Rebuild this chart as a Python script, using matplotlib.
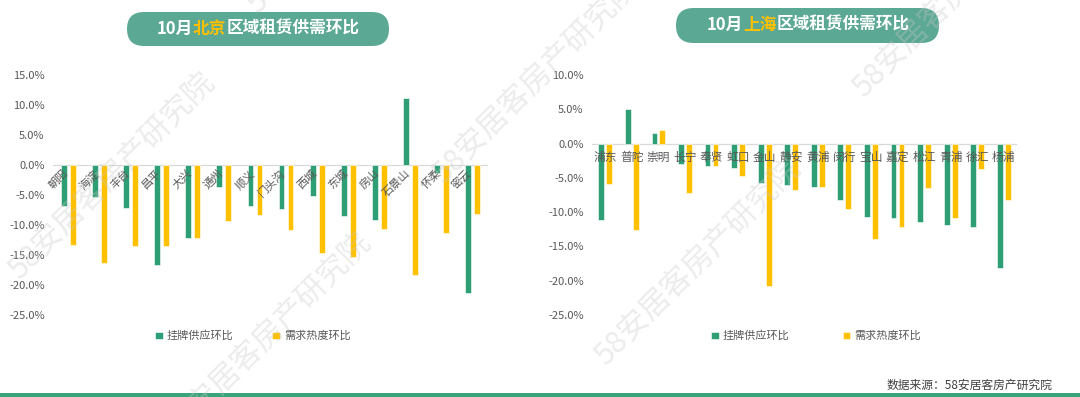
"""Recreates the October Beijing / Shanghai rental supply-demand chart."""

import matplotlib

matplotlib.use("Agg")

import matplotlib.pyplot as plt
import numpy as np
from matplotlib.patches import FancyBboxPatch, Rectangle

plt.rcParams["font.family"] = ["Noto Sans CJK SC", "DejaVu Sans"]

W, H = 1080, 397

GREEN = "#2e9e74"
YELLOW = "#ffc000"
TITLE_BG = "#5ba894"
TEXT = "#595959"

SERIES_NAMES = ["挂牌供应环比", "需求热度环比"]

# Beijing districts (percent month-on-month).
BJ_DISTRICTS = ["朝阳", "海淀", "丰台", "昌平", "大兴", "通州", "顺义",
                "门头沟", "西城", "东城", "房山", "石景山", "怀柔", "密云"]
BJ_SUPPLY = [-6.9, -5.4, -7.1, -16.6, -12.1, -3.7, -6.9,
             -7.3, -5.2, -8.5, -9.1, 11.2, -1.3, -21.4]
BJ_DEMAND = [-13.3, -16.4, -13.5, -13.5, -12.2, -9.4, -8.4,
             -10.9, -14.6, -15.4, -10.7, -18.4, -11.4, -8.2]
BJ_TICKS = [-25, -20, -15, -10, -5, 0, 5, 10, 15]

# Shanghai districts (percent month-on-month).
SH_DISTRICTS = ["浦东", "普陀", "崇明", "长宁", "奉贤", "虹口", "金山", "静安",
                "黄浦", "闵行", "宝山", "嘉定", "松江", "青浦", "徐汇", "杨浦"]
SH_SUPPLY = [-11.2, 5.0, 1.5, -3.0, -3.2, -3.5, -5.8, -6.0,
             -6.3, -8.3, -10.7, -10.8, -11.4, -11.9, -12.1, -18.2]
SH_DEMAND = [-5.9, -12.6, 2.0, -7.2, -3.3, -4.8, -20.7, -6.8,
             -6.3, -9.5, -13.9, -12.1, -6.5, -10.9, -3.7, -8.3]
SH_TICKS = [-25, -20, -15, -10, -5, 0, 5, 10]

WATERMARK = "58安居客房产研究院"
# Watermark centres in pixels (x from left, y from top).
WATERMARK_CENTERS = [(112, 176), (268, 336), (536, 80), (698, 262),
                     (956, -6), (350, -90)]


def px_rect(x0, y0, x1, y1):
    """Converts a pixel box (top-left origin) to figure fractions."""
    return [x0 / W, 1 - y1 / H, (x1 - x0) / W, (y1 - y0) / H]


def draw_panel(fig, box, districts, supply, demand, ticks, width, offset,
               rotate):
    """Draws one grouped bar panel."""
    ax = fig.add_axes(px_rect(*box))
    x = np.arange(len(districts))
    bars_s = ax.bar(x - offset, supply, width, color=GREEN,
                    edgecolor="white", linewidth=0.4, zorder=2)
    bars_d = ax.bar(x + offset, demand, width, color=YELLOW,
                    edgecolor="white", linewidth=0.4, zorder=2)
    ax.axhline(0, color="#d9d9d9", linewidth=0.9, zorder=1)

    ax.set_xlim(-0.5, len(districts) - 0.5)
    ax.set_ylim(ticks[0], ticks[-1])
    ax.set_yticks(ticks)
    ax.set_yticklabels([f"{t:.1f}%" for t in ticks])
    ax.tick_params(axis="y", length=0, pad=6, labelsize=8, labelcolor=TEXT)
    ax.set_xticks([])
    for spine in ax.spines.values():
        spine.set_visible(False)
    ax.patch.set_alpha(0)

    for i, name in enumerate(districts):
        if rotate:
            ax.annotate(name, (i, 0), xytext=(1, -2),
                        textcoords="offset points", rotation=45, ha="right",
                        va="top", fontsize=8, color=TEXT, zorder=5)
        else:
            ax.annotate(name, (i, 0), xytext=(0, -5),
                        textcoords="offset points", ha="center", va="top",
                        fontsize=8.5, color=TEXT, zorder=5)
    return ax, bars_s, bars_d


def draw_title(fig, box, city, center):
    """Draws the rounded title badge with the city name highlighted."""
    x0, y0, x1, y1 = box
    radius = (y1 - y0) / 2
    fig.patches.append(FancyBboxPatch(
        (x0, H - y1), x1 - x0, y1 - y0,
        boxstyle=f"round,pad=0,rounding_size={radius}",
        transform=None, facecolor=TITLE_BG, edgecolor="none",
        figure=fig))
    parts = [("10月", "white"), (city, YELLOW), ("区域租赁供需环比", "white")]
    renderer = fig.canvas.get_renderer()
    texts = []
    for s, c in parts:
        texts.append(fig.text(0, 1 - center[1] / H, s, color=c, fontsize=12,
                              fontweight="bold", ha="left", va="center"))
    widths = [t.get_window_extent(renderer).width for t in texts]
    x = center[0] - sum(widths) / 2
    for t, w in zip(texts, widths):
        t.set_x(x / W)
        x += w


def draw_legend(ax, fig, handles, center, spacing):
    """Draws the two-entry legend under a panel."""
    ax.legend(handles, SERIES_NAMES, loc="center",
              bbox_to_anchor=(center[0] / W, 1 - center[1] / H),
              bbox_transform=fig.transFigure, ncol=2, frameon=False,
              fontsize=8, handlelength=0.7, handleheight=0.7,
              handletextpad=0.35, columnspacing=spacing,
              labelcolor=TEXT)


def main():
    fig = plt.figure(figsize=(W / 100, H / 100), dpi=100)

    ax_bj, s_bj, d_bj = draw_panel(fig, (53, 75, 488, 315), BJ_DISTRICTS,
                                   BJ_SUPPLY, BJ_DEMAND, BJ_TICKS, 0.19,
                                   0.145, True)
    ax_sh, s_sh, d_sh = draw_panel(fig, (592, 75, 1017, 315), SH_DISTRICTS,
                                   SH_SUPPLY, SH_DEMAND, SH_TICKS, 0.22,
                                   0.15, False)

    draw_title(fig, (127, 12, 389, 46), "北京", (258, 29))
    draw_title(fig, (676, 8, 939, 43), "上海", (808, 25))

    draw_legend(ax_bj, fig, [s_bj, d_bj], (253, 336), 3.5)
    draw_legend(ax_sh, fig, [s_sh, d_sh], (816, 336), 4.8)

    fig.text(1052 / W, 1 - 385 / H, "数据来源：58安居客房产研究院",
             ha="right", va="center", fontsize=8.5, color="#404040")
    fig.patches.append(Rectangle((0, 0), W, 4, transform=None,
                                 facecolor="#3aa57a", edgecolor="none",
                                 figure=fig))

    # Faint diagonal watermarks.
    for cx, cy in WATERMARK_CENTERS:
        fig.text(cx / W, 1 - cy / H, WATERMARK, fontsize=22, rotation=45,
                 ha="center", va="center", color="#c8c8c8", alpha=0.35,
                 fontweight="light", zorder=10)

    fig.savefig("out.png", dpi=100)


if __name__ == "__main__":
    main()
